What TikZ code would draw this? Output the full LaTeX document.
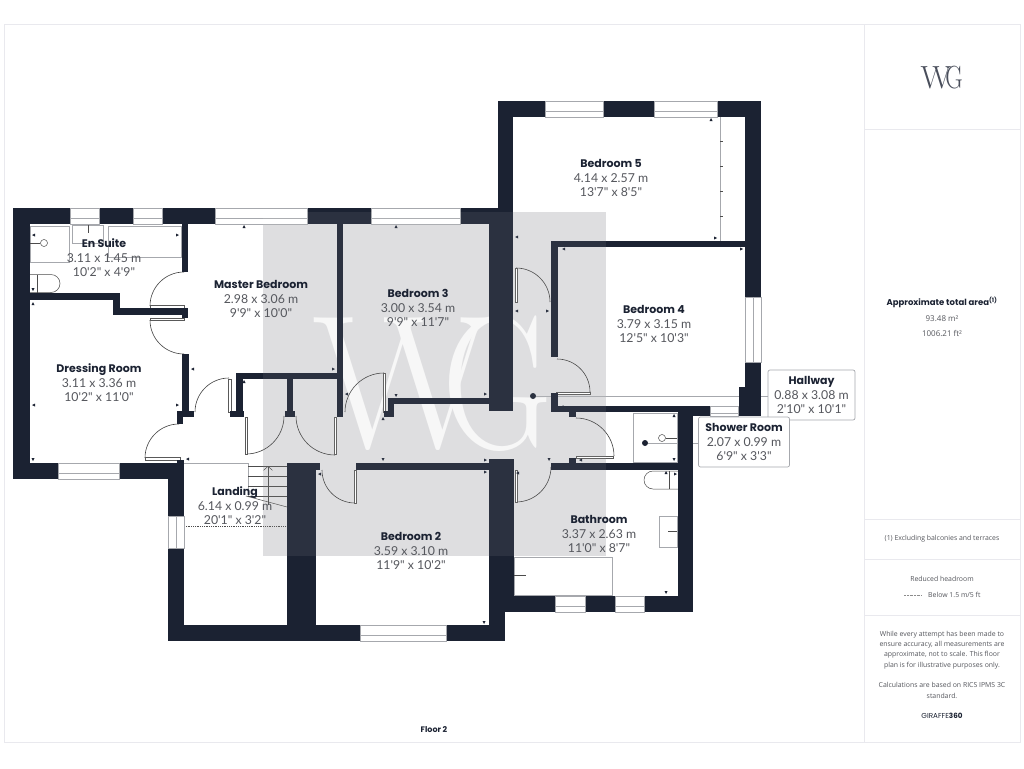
\documentclass[tikz,border=0pt]{standalone}
\usepackage{fontspec}
\usepackage{xcolor}
\usetikzlibrary{positioning,arrows.meta}
\newfontfamily\planfont{Poppins}
\newfontfamily\dimfont{Lato}
\newfontfamily\sidefont{Open Sans}
\definecolor{wallblue}{HTML}{1B2232}
\definecolor{dimgray}{HTML}{55575D}
\definecolor{edgegray}{HTML}{E9E9EE}
\definecolor{linegray}{HTML}{A6A8AD}
\definecolor{markgray}{HTML}{DCDCDE}
\newcommand{\rname}[1]{{\planfont\bfseries\fontsize{11}{14.6}\selectfont\color{wallblue}#1}}
\begin{document}
\begin{tikzpicture}[
    x=1pt, y=-1pt,
    room/.style={align=center, text=dimgray, font=\dimfont\fontsize{12.3}{14.6}\selectfont, inner sep=0pt},
    callout/.style={room, draw=linegray, fill=white, rounded corners=2pt, line width=0.7pt, minimum height=50pt, inner xsep=3pt},
    sidetext/.style={align=center, text=dimgray, font=\sidefont\fontsize{6.9}{10.2}\selectfont, inner sep=0pt},
    panelline/.style={edgegray, line width=1pt},
    wmletter/.style={font=\rmfamily\fontsize{190}{190}\selectfont, inner sep=0pt, transform shape},
    logoletter/.style={font=\rmfamily\fontsize{32}{32}\selectfont, text=wallblue!80, inner sep=0pt, transform shape},
    windowbox/.style={draw=linegray, fill=white, line width=0.7pt},
    fixture/.style={draw=linegray, line width=1pt},
    thinline/.style={draw=black!70, line width=0.5pt},
    doorleaf/.style={draw=black!65, fill=white, line width=0.6pt},
    swing/.style={draw=black!75, line width=0.6pt},
    leader/.style={linegray, line width=1pt},
    dotmark/.style={circle, fill=wallblue, inner sep=0pt, minimum size=6pt}
]
    \useasboundingbox (0,0) rectangle (1024,768);
    \fill[white] (0,0) rectangle (1024,768);

    % outer frame and side panel
    \draw[panelline] (4,25) rectangle (1020,742);
    \draw[panelline] (864,25) -- (864,742);
    \draw[panelline] (864,129) -- (1020,129);
    \draw[panelline] (864,519) -- (1020,519);
    \draw[panelline] (864,559) -- (1020,559);
    \draw[panelline] (864,615) -- (1020,615);

    % watermark under the walls
    \fill[markgray] (263,212) rectangle (606,556);
    \node[wmletter, text=white!97!black] (wmw) at (403,384) {W};
    \node[wmletter, text=white!97!black, xscale=0.8] (wmg) at (498,384) {G};

    % callouts and their leaders
    \node[callout, minimum width=87pt] (hallbox) at (811.5,395) {\rname{Hallway}\\0.88 x 3.08 m\\2'10" x 10'1"};
    \node[callout, minimum width=91pt] (showerbox) at (744,442) {\rname{Shower Room}\\2.07 x 0.99 m\\6'9" x 3'3"};
    \node[dotmark] (halldot) at (533,396) {};
    \node[dotmark] (showerdot) at (645,443) {};
    \draw[leader] (halldot) -- (hallbox.west |- halldot);
    \draw[leader, line width=0.7pt] (showerdot) -- (showerbox.west |- showerdot);

    % fixtures
    \draw[fixture] (30,226) rectangle (69,262);
    \node[draw=black!70, circle, line width=0.5pt, minimum size=7pt, inner sep=0pt] (enshower) at (44,243) {};
    \draw[thinline] (30,243) -- (enshower);
    \draw[fixture] (72,225) rectangle (103,243);
    \draw[thinline] (88,225) -- (88,233);
    \draw[fixture] (108,226) rectangle (181,257);
    \draw[thinline] (37,275) -- (37,293);
    \draw[thinline] (30,274.5) -- (51,274.5) arc[start angle=-90, end angle=90, radius=9] -- (30,292.5);
    \draw[fixture] (720,117) -- (720,241);
    \foreach \y in {141,166,191,216}
        \draw[thinline] (720,\y) -- (723,\y);
    \draw[fixture] (514,557) rectangle (612,595);
    \draw[thinline] (514,575) -- (526,575);
    \draw[fixture] (659,516) rectangle (677,547);
    \draw[thinline] (668,531) -- (677,531);
    \draw[thinline] (678,471) -- (653,471) arc[start angle=270, end angle=90, radius=9] -- (678,489);
    \draw[thinline] (669,471) -- (669,489);
    \draw[fixture] (633,413) rectangle (677,462);
    \node[draw=black!70, circle, line width=0.5pt, minimum size=7pt, inner sep=0pt] (showerrose) at (662,438) {};
    \draw[thinline] (showerrose) -- (677,438);

    % stairs
    \draw[fixture, line width=0.8pt] (184,463.5) -- (248,463.5) -- (248,497);
    \foreach \y in {466,476,486,496}
        \draw[thinline] (248,\y) -- (287,\y);
    \draw[thinline] (246,496) -- (287,507);
    \draw[thinline, -{Straight Barb[length=4pt,width=9pt]}] (268,505) -- (268,466);
    \draw[thick, densely dotted, black!70] (184,526) -- (287,526);

    % door swings
    \foreach \cx/\cy/\sa/\ea/\r in {184/306/180/270/34, 184/320/180/90/34, 229/412/270/180/34,
        179/458/180/270/34, 246/416/90/0/38, 335/416/90/180/39, 384/412/270/180/39,
        355/470/90/180/33, 516/302/270/360/34, 557/392/0/-90/33, 576/456/0/-90/38, 516/467/90/0/35}
        \draw[swing] (\cx,\cy) ++(\sa:\r) arc[start angle=\sa, end angle=\ea, radius=\r];
    \foreach \xa/\ya/\xb/\yb in {150/305/184/308, 150/318/184/320, 228/379/231/412, 145/457/180/460,
        245/417/247/454, 334/417/336/454, 383/373/385/412, 354/470/356/503,
        515/268/517/302, 556/392/590/394, 576/456/613/458, 515/470/517/502}
        \draw[doorleaf] (\xa,\ya) rectangle (\xb,\yb);

    % walls
    \foreach \xa/\ya/\xb/\yb in {13/208/513/224, 13/208/30/479, 13/463/184/479, 177/460/184/479,
        30/293/120/300, 113/293/120/315, 113/308/188/315, 182/224/188/272, 182/308/188/318,
        182/354/189/417, 177/411/194/417, 177/411/183/424,
        236/373/343/379, 236/373/243/417, 230/411/244/417, 287/373/293/417, 285/411/295/417,
        337/224/343/417, 388/398/489/404, 388/398/394/417, 384/411/394/417,
        489/208/513/411, 498/101/513/224, 498/101/761/117, 745/101/761/298, 745/362/761/416,
        739/387/761/416, 551/241/745/247, 551/241/558/357, 551/393/558/412, 551/406/710/412,
        678/406/739/416, 569/411/576/417, 569/458/576/464, 551/463/678/470, 678/406/693/612,
        489/459/514/612, 489/459/505/641, 287/463/320/470, 287/463/316/641, 356/463/489/470,
        168/463/184/641, 168/625/505/641, 504/596/693/612}
        \fill[wallblue] (\xa,\ya) rectangle (\xb,\yb);

    % windows
    \foreach \xa/\xb/\ya/\yb in {70/99/208/224, 133/162/208/224, 215/307/208/224, 371/460/208/224,
        545/603/101/117, 654/717/101/117, 58/119/463/479, 360/446/625/641,
        555/585/596/612, 615/644/596/612, 710/738/406/416} {
        \draw[windowbox] (\xa,\ya) rectangle (\xb,\yb);
        \draw[thinline, linegray] (\xa,{(\ya+\yb)/2+2}) -- (\xb,{(\ya+\yb)/2+2});
    }
    \foreach \xa/\xb/\ya/\yb in {168/184/516/548, 745/761/297/362} {
        \draw[windowbox] (\xa,\ya) rectangle (\xb,\yb);
        \draw[thinline, linegray] ({(\xa+\xb)/2},\ya) -- ({(\xa+\xb)/2},\yb);
    }

    % small measuring marks, tip towards the wall
    \foreach \x/\y/\dx/\dy in {244/225/0/-1, 32/235/-1/0, 179/235/1/0, 33/291/0/1, 33/302/0/-1,
        32/405/-1/0, 179/405/1/0, 33/461/0/1, 191/369/-1/0, 244/380/0/-1, 335/369/1/0, 186/459/-1/0,
        396/225/0/-1, 396/397/0/1, 487/394/1/0, 345/394/-1/0, 383/417/0/-1, 383/461/0/1,
        487/460/1/0, 487/472/1/0, 318/474/-1/0, 484/624/0/1, 711/118/0/-1, 515/237/-1/0,
        717/238/1/0, 562/249/-1/0, 743/249/1/0, 515/311/-1/0, 549/311/1/0, 563/405/0/-1,
        674/414/0/-1, 674/461/0/1, 666/471/0/-1, 677/474/1/0, 666/594/0/1, 549/461/0/1,
        579/460/-1/0, 516/473/-1/0}
        \fill[wallblue] (\x,\y) -- ++({-3*\dx-1.5*\dy},{-3*\dy-1.5*\dx}) -- ++({3*\dy},{3*\dx}) -- cycle;

    % the grey of the watermark also lifts the walls
    \fill[white, opacity=0.07] (263,212) rectangle (606,556);

    % room labels
    \node[room] (ensuite) at (104,258) {\rname{En Suite}\\3.11 x 1.45 m\\10'2" x 4'9"};
    \node[room] (master) at (261,299) {\rname{Master Bedroom}\\2.98 x 3.06 m\\9'9" x 10'0"};
    \node[room] (dressing) at (99,383) {\rname{Dressing Room}\\3.11 x 3.36 m\\10'2" x 11'0"};
    \node[room] (bedthree) at (418,308) {\rname{Bedroom 3}\\3.00 x 3.54 m\\9'9" x 11'7"};
    \node[room] (bedfive) at (611,178) {\rname{Bedroom 5}\\4.14 x 2.57 m\\13'7" x 8'5"};
    \node[room] (bedfour) at (654,324) {\rname{Bedroom 4}\\3.79 x 3.15 m\\12'5" x 10'3"};
    \node[room] (landing) at (235,506) {\rname{Landing}\\6.14 x 0.99 m\\20'1" x 3'2"};
    \node[room] (bedtwo) at (411,551) {\rname{Bedroom 2}\\3.59 x 3.10 m\\11'9" x 10'2"};
    \node[room] (bathroom) at (599,534) {\rname{Bathroom}\\3.37 x 2.63 m\\11'0" x 8'7"};
    \node[room, font=\planfont\bfseries\fontsize{8}{10}\selectfont, text=wallblue] (floorname) at (434,730) {Floor 2};

    % side panel texts
    \node[logoletter] (logow) at (936,78) {W};
    \node[logoletter, xscale=0.75] (logog) at (954,78) {G};
    \node[room, font=\planfont\bfseries\fontsize{8.5}{10}\selectfont, text=wallblue] (areatitle) at (942,302) {Approximate total area\textsuperscript{(1)}};
    \node[sidetext, font=\sidefont\fontsize{8}{10}\selectfont, below=10pt of areatitle.center, anchor=center, yshift=-7pt] (aream) {93.48 m²};
    \node[sidetext, font=\sidefont\fontsize{8}{10}\selectfont, below=14.5pt of aream.center, anchor=center] (areaft) {1006.21 ft²};
    \node[sidetext] (excluding) at (942,539) {(1) Excluding balconies and terraces};
    \node[sidetext] (reduced) at (942,579) {Reduced headroom};
    \node[sidetext, anchor=west] (below) at (928,595) {Below 1.5 m/5 ft};
    \coordinate (dotstart) at (904,595);
    \draw[densely dotted, black!45] (dotstart) -- (below.west -| 922,595);
    \node[sidetext] (disclaimer) at (942,650) {While every attempt has been made to\\ensure accuracy, all measurements are\\approximate, not to scale. This floor\\plan is for illustrative purposes only.};
    \node[sidetext] (calc) at (942,690.5) {Calculations are based on RICS IPMS 3C\\standard.};
    \node[sidetext, text=wallblue, font=\planfont\fontsize{7.2}{10}\selectfont] (giraffe) at (942,716) {GIRAFFE\textbf{360}};
\end{tikzpicture}
\end{document}
